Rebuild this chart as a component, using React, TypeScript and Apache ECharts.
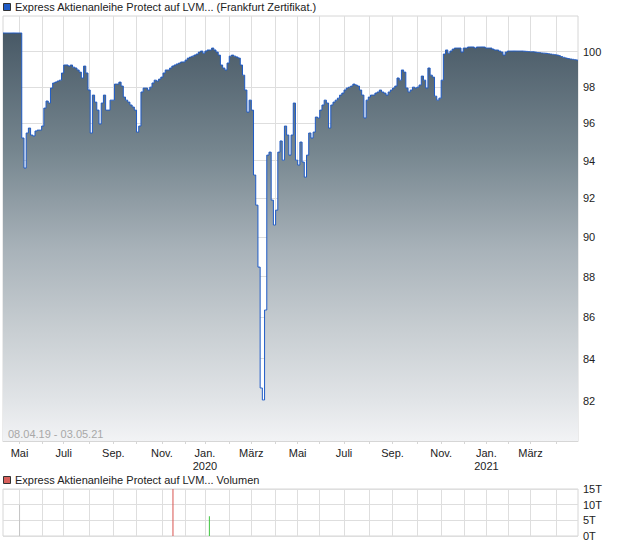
import React, { useEffect, useRef } from 'react';
import * as echarts from 'echarts';

const FIRST_DAY = '2019-04-08';
const LAST_DAY = '2021-05-03';
const exchangeHolidays = [
  '2019-04-19', '2019-04-22', '2019-05-01', '2019-05-30', '2019-06-10',
  '2019-12-24', '2019-12-25', '2019-12-26', '2019-12-31', '2020-01-01',
  '2020-04-10', '2020-04-13', '2020-05-01', '2020-12-24', '2020-12-25',
  '2020-12-31', '2021-01-01', '2021-04-02', '2021-04-05',
];
const monthNames = ['Jan.', 'Feb.', 'März', 'Apr.', 'Mai', 'Juni', 'Juli', 'Aug.', 'Sep.', 'Okt.', 'Nov.', 'Dez.'];
const labelledMonths = [0, 2, 4, 6, 8, 10];
const priceTicks = [82, 84, 86, 88, 90, 92, 94, 96, 98, 100];
const PRICE_MIN = 80.16;
const PRICE_MAX = 102.04;
const VOLUME_MAX = 15;
const VOLUME_STEP = 5;

const SERIES_NAME = 'Express Aktienanleihe Protect auf LVM... (Frankfurt Zertifikat.)';
const VOLUME_NAME = 'Express Aktienanleihe Protect auf LVM... Volumen';
const RANGE_TEXT = '08.04.19 - 03.05.21';

// closing prices, one every second trading day starting 08.04.2019
const closes = [
  101.06, 101.06, 101.06, 101.06, 101.06, 101.06, 101.06, 101.06, 101.06, 95.21,
  93.6, 95.48, 95.75, 95.37, 95.32, 95.59, 95.64, 95.64, 95.86, 96.84,
  97.23, 97.12, 97.95, 98.23, 98.28, 98.34, 98.39, 98.79, 99.24, 99.24,
  99.18, 99.24, 99.12, 99.07, 98.96, 98.84, 98.51, 99.18, 98.79, 97.84,
  95.48, 97.56, 97.17, 96.73, 95.97, 97.12, 97.56, 96.73, 96.73, 97.28,
  97.28, 98.17, 98.17, 98.28, 98.06, 97.45, 97.28, 97.17, 97.01, 96.9,
  96.73, 95.53, 95.86, 97.73, 97.95, 97.95, 97.84, 98.0, 98.23, 98.39,
  98.34, 98.45, 98.56, 98.79, 98.96, 98.96, 99.07, 99.18, 99.24, 99.3,
  99.35, 99.41, 99.41, 99.52, 99.63, 99.69, 99.74, 99.8, 99.86, 99.97,
  100.03, 99.91, 100.03, 100.09, 100.09, 100.2, 100.09, 99.97, 99.8, 99.24,
  99.07, 98.96, 99.35, 99.74, 99.8, 99.74, 99.69, 99.63, 99.24, 98.67,
  97.84, 96.62, 97.28, 96.73, 93.23, 91.65, 88.48, 82.61, 82.05, 86.35,
  94.29, 94.45, 91.91, 90.62, 91.39, 94.45, 95.05, 94.02, 95.86, 95.37,
  94.29, 95.37, 97.12, 94.02, 93.76, 94.99, 93.92, 93.12, 94.29, 95.48,
  95.21, 95.53, 96.35, 96.3, 96.73, 97.01, 97.28, 97.12, 95.75, 97.01,
  97.17, 97.28, 97.39, 97.56, 97.67, 97.84, 97.95, 98.0, 98.06, 98.17,
  98.12, 98.06, 97.84, 97.56, 96.3, 97.28, 97.45, 97.56, 97.56, 97.67,
  97.73, 97.84, 97.73, 97.67, 97.56, 97.73, 97.84, 97.95, 98.06, 98.51,
  98.39, 98.96, 98.84, 97.95, 97.73, 97.84, 98.0, 97.95, 98.0, 98.12,
  98.62, 98.39, 97.95, 99.07, 98.67, 98.56, 97.5, 97.28, 97.39, 98.39,
  99.86, 100.09, 99.91, 100.03, 100.14, 100.2, 100.2, 100.2, 99.97, 100.2,
  100.2, 100.26, 100.26, 100.26, 100.2, 100.26, 100.26, 100.26, 100.26, 100.2,
  100.2, 100.2, 100.14, 100.09, 100.09, 100.03, 99.97, 99.8, 99.97, 100.03,
  100.03, 100.03, 100.03, 100.03, 100.03, 100.03, 100.02, 100.01, 100.0, 99.99,
  99.99, 99.97, 99.95, 99.94, 99.92, 99.91, 99.9, 99.88, 99.86, 99.84,
  99.82, 99.8, 99.77, 99.72, 99.67, 99.63, 99.6, 99.58, 99.56, 99.54,
  99.52, 99.51,
];

const volumeDates = ['2019-05-02', '2019-11-15', '2020-01-08'];
const volumeValues = [10, 18, 6.3];
const volumeMoves = ['flat', 'down', 'up'];

const FONT = '"Liberation Sans", Arial, sans-serif';

function buildTradingDays(): string[] {
  const out: string[] = [];
  const d = new Date(FIRST_DAY + 'T00:00:00Z');
  const end = new Date(LAST_DAY + 'T00:00:00Z');
  while (d.getTime() <= end.getTime()) {
    const wd = d.getUTCDay();
    const s = d.toISOString().slice(0, 10);
    if (wd !== 0 && wd !== 6 && exchangeHolidays.indexOf(s) < 0) out.push(s);
    d.setUTCDate(d.getUTCDate() + 1);
  }
  return out;
}

export default function App() {
  const ref = useRef<HTMLDivElement>(null);
  useEffect(() => {
    if (!ref.current) return;
    const chart = echarts.init(ref.current, undefined, { renderer: 'svg' });
    const days = buildTradingDays();
    const last = days.length - 1;
    const monthStart = (i: number) => i > 0 && i < last && days[i].slice(5, 7) !== days[i - 1].slice(5, 7);
    const labelled = (i: number) => monthStart(i) && labelledMonths.indexOf(Number(days[i].slice(5, 7)) - 1) >= 0;
    const fmt = (value: string) => {
      const m = Number(value.slice(5, 7)) - 1;
      return m === 0 ? monthNames[m] + '\n' + value.slice(0, 4) : monthNames[m];
    };
    const priceData = closes.map((v, i) => [days[Math.min(i * 2, last)], v]);
    const moveColor: Record<string, string> = { flat: '#c4c4c4', down: '#d9534f', up: '#3fc43f' };
    const volumeData = volumeDates.map((d, i) => ({
      value: [d, volumeValues[i]],
      itemStyle: { color: moveColor[volumeMoves[i]] },
    }));
    const gridColor = '#dedede';
    const option: any = {
      animation: false,
      backgroundColor: '#ffffff',
      textStyle: { fontFamily: FONT },
      grid: [
        { left: 3, right: 42, top: 16, height: 425, show: true, borderColor: '#d6d6d6', borderWidth: 1, backgroundColor: '#ffffff' },
        { left: 3, right: 42, top: 489, height: 47, show: true, borderColor: '#d6d6d6', borderWidth: 1 },
      ],
      xAxis: [
        {
          type: 'category', gridIndex: 0, data: days, boundaryGap: false,
          axisLine: { show: true, lineStyle: { color: '#d6d6d6' } },
          axisTick: { show: true, interval: monthStart, length: 3, lineStyle: { color: '#d6d6d6' } },
          axisLabel: { interval: labelled, formatter: fmt, color: '#222', fontSize: 11, margin: 5, lineHeight: 13, fontFamily: FONT },
          splitLine: { show: true, interval: monthStart, lineStyle: { color: gridColor } },
        },
        {
          type: 'category', gridIndex: 1, data: days, boundaryGap: false,
          axisLine: { show: false }, axisTick: { show: false }, axisLabel: { show: false },
          splitLine: { show: true, interval: monthStart, lineStyle: { color: gridColor } },
        },
      ],
      yAxis: [
        {
          type: 'log', gridIndex: 0, position: 'right', min: PRICE_MIN, max: PRICE_MAX,
          axisLine: { show: false },
          axisTick: { show: false, customValues: priceTicks },
          axisLabel: { customValues: priceTicks, color: '#222', fontSize: 11, margin: 5, fontFamily: FONT, formatter: (v: number) => String(Math.round(v)) },
          splitLine: { show: true, lineStyle: { color: gridColor } },
        },
        {
          type: 'value', gridIndex: 1, position: 'right', min: 0, max: VOLUME_MAX, interval: VOLUME_STEP,
          axisLine: { show: false }, axisTick: { show: false },
          axisLabel: { color: '#222', fontSize: 11, margin: 5, fontFamily: FONT, formatter: '{value}T' },
          splitLine: { show: true, lineStyle: { color: gridColor } },
        },
      ],
      series: [
        {
          name: SERIES_NAME, type: 'line', xAxisIndex: 0, yAxisIndex: 0, data: priceData,
          symbol: 'none', showSymbol: false, z: 3, step: 'middle',
          lineStyle: { color: '#1f5bc6', width: 1 },
          areaStyle: {
            origin: 'start', opacity: 1,
            color: new echarts.graphic.LinearGradient(0, 0, 0, 1, [
              { offset: 0, color: '#485966' },
              { offset: 0.29, color: '#76868f' },
              { offset: 0.53, color: '#a8b2b9' },
              { offset: 0.73, color: '#c8ced2' },
              { offset: 0.9, color: '#e1e4e7' },
              { offset: 1, color: '#f2f3f5' },
            ]),
          },
        },
        {
          name: VOLUME_NAME, type: 'bar', xAxisIndex: 1, yAxisIndex: 1, data: volumeData,
          barWidth: 1, z: 3,
        },
      ],
      graphic: [
        { type: 'rect', x: 3.5, y: 3.5, shape: { x: 0, y: 0, width: 7, height: 7 }, style: { fill: '#1f5bc6', stroke: '#333', lineWidth: 1 } },
        { type: 'text', x: 15, y: 7, style: { text: SERIES_NAME, fill: '#222', fontSize: 11, fontFamily: FONT, verticalAlign: 'middle' } },
        { type: 'rect', x: 3.5, y: 476.5, shape: { x: 0, y: 0, width: 7, height: 7 }, style: { fill: '#d9605c', stroke: '#333', lineWidth: 1 } },
        { type: 'text', x: 15, y: 480, style: { text: VOLUME_NAME, fill: '#222', fontSize: 11, fontFamily: FONT, verticalAlign: 'middle' } },
        { type: 'text', x: 8, y: 434, z: 10, style: { text: RANGE_TEXT, fill: '#a8a8a8', fontSize: 11, fontFamily: FONT, verticalAlign: 'middle' } },
      ],
    };
    chart.setOption(option);
    return () => chart.dispose();
  }, []);
  return (
    <div
      ref={ref}
      style={{ position: 'fixed', left: 0, top: 0, width: 620, height: 546, background: '#fff' }}
    />
  );
}
